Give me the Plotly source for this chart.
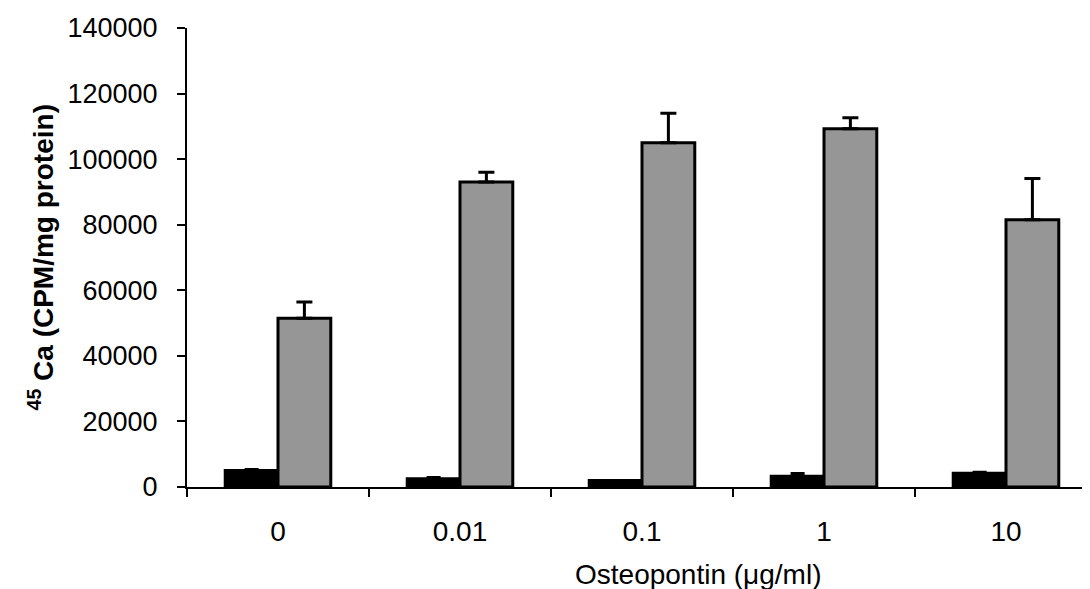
import plotly.graph_objects as go

categories = ["0", "0.01", "0.1", "1", "10"]
control_vals = [5000, 2500, 2000, 3300, 4200]
control_err = [300, 400, 0, 800, 300]
treated_vals = [51500, 93000, 105000, 109300, 81500]
treated_err = [4900, 3000, 9000, 3300, 12600]
y_ticks = [0, 20000, 40000, 60000, 80000, 100000, 120000, 140000]

FONT = "Liberation Sans, Arial, sans-serif"
zeros = [0] * len(categories)

fig = go.Figure()
fig.add_trace(go.Bar(
    x=categories, y=control_vals,
    marker=dict(color="#000000", line=dict(color="#000000", width=3)),
    error_y=dict(type="data", array=control_err, arrayminus=zeros,
                 symmetric=False, visible=True,
                 color="#000000", thickness=3, width=7),
    showlegend=False,
))
fig.add_trace(go.Bar(
    x=categories, y=treated_vals,
    marker=dict(color="#969696", line=dict(color="#000000", width=3)),
    error_y=dict(type="data", array=treated_err, arrayminus=zeros,
                 symmetric=False, visible=True,
                 color="#000000", thickness=3, width=8),
    showlegend=False,
))

fig.update_layout(
    width=1090, height=589,
    margin=dict(l=179, r=1, t=20, b=110),
    paper_bgcolor="white", plot_bgcolor="white",
    barmode="group", bargap=0.42, bargroupgap=0,
    font=dict(family=FONT, color="#000000"),
    xaxis=dict(
        type="category", showline=True, linecolor="#000000", linewidth=2,
        ticks="outside", tickson="boundaries", ticklen=8, tickwidth=2,
        tickcolor="#000000", showgrid=False, zeroline=False,
        tickfont=dict(family=FONT, size=28, color="#000000"),
        ticklabelstandoff=18,
    ),
    yaxis=dict(
        range=[0, 140000], tickvals=y_ticks,
        ticktext=[str(v) for v in y_ticks],
        showline=True, linecolor="#000000", linewidth=2,
        ticks="outside", ticklen=8, tickwidth=2, tickcolor="#000000",
        showgrid=False, zeroline=False,
        tickfont=dict(family=FONT, size=27, color="#000000"),
        ticklabelstandoff=14,
    ),
    annotations=[
        dict(text="Osteopontin (μg/ml)", xref="paper", yref="paper",
             x=(690 - 179) / 910, y=-0.19, xanchor="center", yanchor="middle",
             showarrow=False, font=dict(family=FONT, size=28, color="#000000")),
        dict(text="<b><sup>45</sup> Ca (CPM/mg protein)</b>", xref="paper", yref="paper",
             x=(33 - 179) / 910, y=0.5, xanchor="center", yanchor="middle",
             textangle=-90, showarrow=False,
             font=dict(family=FONT, size=28, color="#000000")),
    ],
)

fig.write_html("out.html")
